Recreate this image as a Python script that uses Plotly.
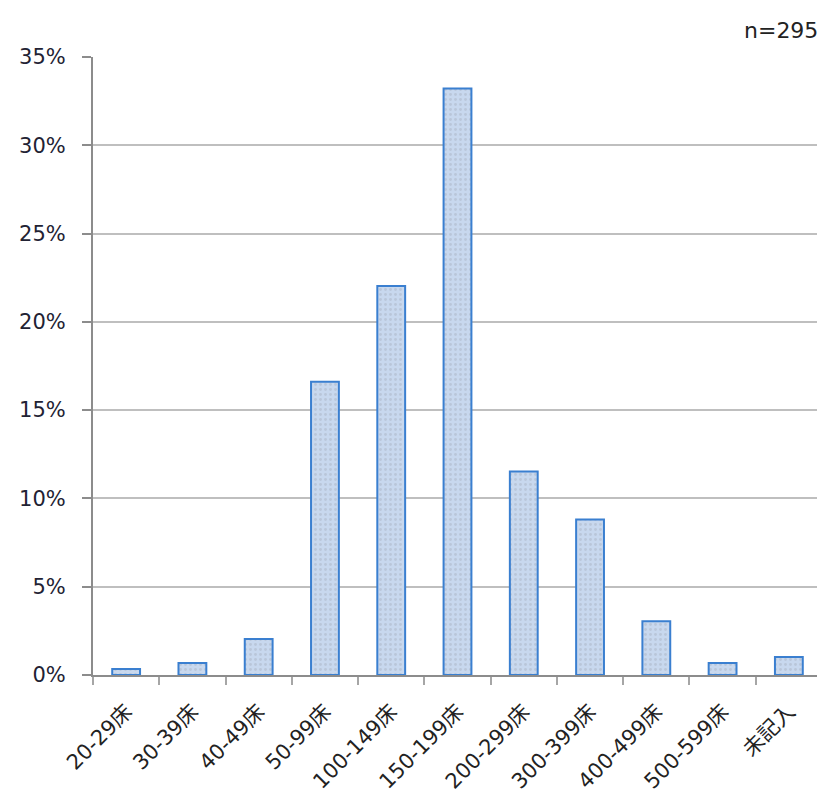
import plotly.graph_objects as go

categories = ["20-29床", "30-39床", "40-49床", "50-99床", "100-149床", "150-199床",
              "200-299床", "300-399床", "400-499床", "500-599床", "未記入"]
counts = [1, 2, 6, 49, 65, 98, 34, 26, 9, 2, 3]
n_total = 295
percents = [c / n_total * 100 for c in counts]

# the page body adds an 8px offset, so the figure is drawn 8px smaller
fig = go.Figure(go.Bar(
    x=categories,
    y=percents,
    marker=dict(
        color="#c8d8ee",
        line=dict(color="#3a7fd0", width=2),
        pattern=dict(shape=".", fgcolor="#aab4c4", bgcolor="#c8d8ee",
                     size=5, solidity=0.25),
    ),
    hovertemplate="%{x}: %{y:.1f}%<extra></extra>",
))

fig.add_annotation(
    text="n=295", xref="paper", yref="paper", x=1.0, y=1.0,
    xanchor="right", yanchor="middle", yshift=27, xshift=-2, showarrow=False,
    font=dict(family="DejaVu Sans", size=22, color="#222222"),
)

fig.update_layout(
    width=817, height=790,
    plot_bgcolor="white", paper_bgcolor="white",
    margin=dict(l=85, r=3, t=49, b=123, autoexpand=False),
    bargap=0.58,
    showlegend=False,
    xaxis=dict(
        tickangle=-45,
        tickfont=dict(family="DejaVu Sans, Noto Sans CJK JP", size=21, color="#222222"),
        showline=True, linecolor="#8c8c8c", linewidth=2,
        ticks="outside", ticklen=8, tickcolor="#a6a6a6", tickwidth=2,
        tickson="boundaries",
        ticklabelstandoff=14,
        showgrid=False,
        automargin=False,
    ),
    yaxis=dict(
        range=[0, 35], dtick=5, ticksuffix="%",
        tickfont=dict(family="DejaVu Sans", size=21, color="#222233"),
        showline=True, linecolor="#8c8c8c", linewidth=2,
        ticks="outside", ticklen=9, tickcolor="#8c8c8c", tickwidth=2,
        ticklabelstandoff=12,
        showgrid=True, gridcolor="#bfbfbf", gridwidth=1.5,
        zeroline=False,
        automargin=False,
    ),
)

fig.write_html("out.html")
